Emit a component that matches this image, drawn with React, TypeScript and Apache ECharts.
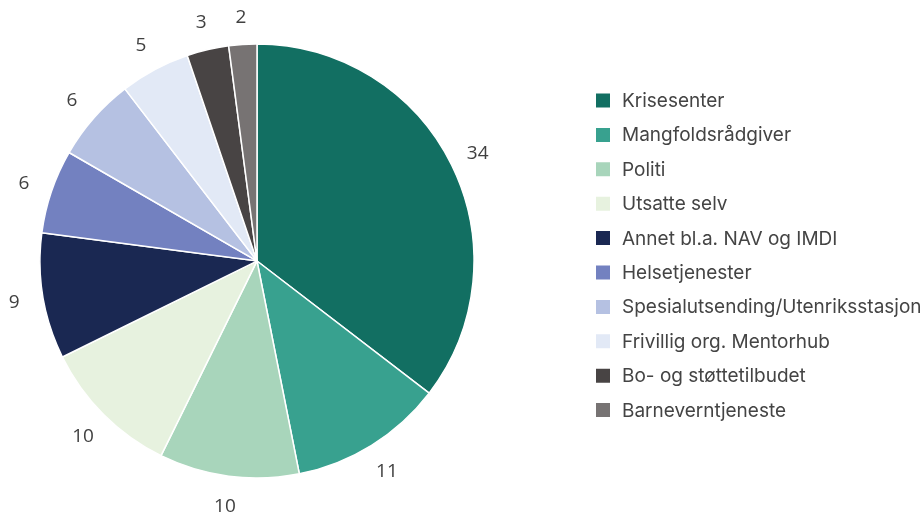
import React, { useEffect, useRef } from "react";
import * as echarts from "echarts";

const categories = [
  "Krisesenter",
  "Mangfoldsrådgiver",
  "Politi",
  "Utsatte selv",
  "Annet bl.a. NAV og IMDI",
  "Helsetjenester",
  "Spesialutsending/Utenriksstasjon",
  "Frivillig org. Mentorhub",
  "Bo- og støttetilbudet",
  "Barneverntjeneste",
];
const values = [34, 11, 10, 10, 9, 6, 6, 5, 3, 2];
const colors = [
  "#126f62",
  "#38a18f",
  "#a8d5bb",
  "#e7f2df",
  "#1a2852",
  "#7381c0",
  "#b5c1e2",
  "#e2e9f6",
  "#484444",
  "#777373",
];

export default function App() {
  const ref = useRef<HTMLDivElement>(null);
  useEffect(() => {
    if (!ref.current) return;
    const chart = echarts.init(ref.current, null, { renderer: "svg" });
    chart.setOption({
      animation: false,
      color: colors,
      legend: {
        orient: "vertical",
        left: 589,
        top: 86,
        icon: "rect",
        itemWidth: 16,
        itemHeight: 16,
        itemGap: 15.4,
        padding: 5,
        textStyle: {
          fontFamily: "Inter",
          fontSize: 19,
          color: "#444",
          lineHeight: 18,
          padding: [0, 0, 0, 6],
        },
        data: categories,
      },
      series: [
        {
          type: "pie",
          center: [257, 261],
          radius: 217,
          startAngle: 90,
          clockwise: true,
          itemStyle: { borderColor: "#fff", borderWidth: 1.5 },
          label: { show: false },
          labelLine: { show: false },
          data: categories.map((name, i) => ({ name, value: values[i] })),
        },
        {
          type: "pie",
          center: [257, 261],
          radius: [231, 255],
          startAngle: 90,
          clockwise: true,
          silent: true,
          avoidLabelOverlap: false,
          itemStyle: { color: "rgba(0,0,0,0)", borderWidth: 0 },
          label: {
            show: true,
            position: "inside",
            formatter: "{c}",
            fontFamily: "Open Sans",
            fontSize: 19,
            color: "#404040",
          },
          labelLine: { show: false },
          labelLayout: { hideOverlap: false },
          data: categories.map((name, i) => ({ name, value: values[i] })),
        },
      ],
    });
    return () => chart.dispose();
  }, []);
  return (
    <div
      ref={ref}
      style={{ position: "fixed", left: 0, top: 0, width: 924, height: 519 }}
    />
  );
}
